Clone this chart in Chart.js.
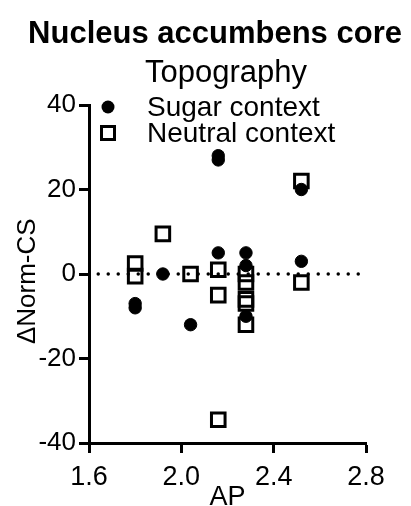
<!DOCTYPE html>
<html>
<head>
<meta charset="utf-8">
<script src="https://cdn.jsdelivr.net/npm/chart.js@4.4.1/dist/chart.umd.min.js"></script>
<style>
  html, body { margin: 0; padding: 0; background: #fff; }
  #wrap { width: 411px; height: 506px; }
</style>
</head>
<body>
<div id="wrap"><canvas id="c" width="411" height="506"></canvas></div>
<script>
// ---- data ----
const titleText = 'Nucleus accumbens core';
const subtitleText = 'Topography';
const seriesNames = ['Sugar context', 'Neutral context'];
const sugarAP = [1.80, 1.80, 1.92, 2.04, 2.16, 2.16, 2.16, 2.28, 2.28, 2.28, 2.52, 2.52];
const sugarDelta = [-7, -8, 0, -12, 28, 27, 5, 5, 2, -10, 20, 3];
const neutralAP = [1.80, 1.80, 1.92, 2.04, 2.16, 2.16, 2.16, 2.28, 2.28, 2.28, 2.28, 2.28, 2.52, 2.52];
const neutralDelta = [2.5, -0.5, 9.5, 0, 1, -5, -34.5, 0, -2, -6, -7, -12, 22, -2];
const zeroLineAP = [1.64, 2.77];
const zeroLineY = [0, 0];
const xTicks = [1.6, 2.0, 2.4, 2.8];
const yTicks = [-40, -20, 0, 20, 40];
const xTitle = 'AP';
const yTitle = 'ΔNorm-CS';

const FONT = "'Liberation Sans', Arial, Helvetica, sans-serif";
const toPts = (xs, ys) => xs.map((x, i) => ({ x: x, y: ys[i] }));

const overlay = {
  id: 'overlay',
  afterDraw(chart) {
    const ctx = chart.ctx;
    ctx.save();
    ctx.fillStyle = '#000';
    ctx.textAlign = 'center';
    ctx.textBaseline = 'alphabetic';
    ctx.font = 'bold 31px ' + FONT;
    ctx.fillText(titleText, 215, 43);
    ctx.font = '31px ' + FONT;
    ctx.fillText(subtitleText, 226, 82);
    // legend
    ctx.textAlign = 'left';
    ctx.textBaseline = 'middle';
    ctx.font = '28px ' + FONT;
    const lx = 108, ly = [107, 133];
    ctx.fillStyle = '#000';
    ctx.strokeStyle = '#000';
    ctx.beginPath(); ctx.arc(lx, ly[0], 6.5, 0, Math.PI * 2); ctx.fill();
    ctx.lineWidth = 3;
    ctx.strokeRect(lx - 6.5, ly[1] - 6.5, 13, 13);
    ctx.fillText(seriesNames[0], 147, ly[0] + 1);
    ctx.fillText(seriesNames[1], 147, ly[1] + 1);
    ctx.restore();
  }
};

new Chart(document.getElementById('c'), {
  type: 'scatter',
  data: {
    datasets: [
      {
        label: seriesNames[0],
        data: toPts(sugarAP, sugarDelta),
        pointStyle: 'circle',
        pointRadius: 6.2,
        pointHoverRadius: 6.2,
        backgroundColor: '#000',
        borderColor: '#000',
        borderWidth: 1
      },
      {
        label: seriesNames[1],
        data: toPts(neutralAP, neutralDelta),
        pointStyle: 'rect',
        pointRadius: 9.6,
        pointHoverRadius: 9.6,
        backgroundColor: 'rgba(0,0,0,0)',
        borderColor: '#000',
        borderWidth: 3
      },
      {
        type: 'line',
        label: 'zero',
        data: toPts(zeroLineAP, zeroLineY),
        borderColor: '#000',
        borderWidth: 3.5,
        borderDash: [0, 10],
        borderCapStyle: 'round',
        pointRadius: 0,
        fill: false
      }
    ]
  },
  options: {
    responsive: false,
    animation: false,
    devicePixelRatio: 1,
    layout: { padding: { top: 105, right: 45, left: 0, bottom: 0 } },
    plugins: { legend: { display: false }, title: { display: false }, tooltip: { enabled: false } },
    scales: {
      x: {
        type: 'linear',
        min: 1.6, max: 2.8,
        afterBuildTicks: (s) => { s.ticks = xTicks.map(v => ({ value: v })); },
        afterFit: (s) => { s.height = 63; },
        ticks: {
          callback: (v) => Number(v).toFixed(1),
          color: '#000',
          font: { family: FONT, size: 27 },
          padding: 8,
          maxRotation: 0
        },
        grid: { drawOnChartArea: false, drawTicks: true, tickLength: 10, tickWidth: 3, tickColor: '#000', color: '#000' },
        border: { display: true, color: '#000', width: 3 },
        title: { display: true, text: xTitle, color: '#000', font: { family: FONT, size: 27 }, padding: { top: 0, bottom: -8 } }
      },
      y: {
        type: 'linear',
        min: -40, max: 40,
        afterBuildTicks: (s) => { s.ticks = yTicks.map(v => ({ value: v })); },
        afterFit: (s) => { s.width = 89; },
        ticks: {
          color: '#000',
          font: { family: FONT, size: 26 },
          padding: 3
        },
        grid: { drawOnChartArea: false, drawTicks: true, tickLength: 10, tickWidth: 3, tickColor: '#000', color: '#000' },
        border: { display: true, color: '#000', width: 3 },
        title: { display: true, text: yTitle + '  ', color: '#000', font: { family: FONT, size: 26 }, padding: { top: 12, bottom: 0 } }
      }
    }
  },
  plugins: [overlay]
});
</script>
</body>
</html>
